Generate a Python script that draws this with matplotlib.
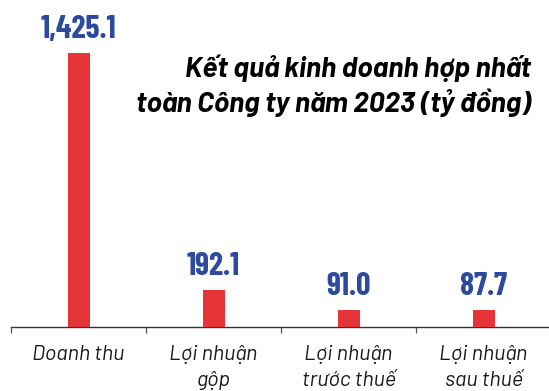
import matplotlib
matplotlib.use("Agg")
import matplotlib.pyplot as plt

# Kết quả kinh doanh 2023 (tỷ đồng)
categories = ["Doanh thu", "Lợi nhuận\ngộp", "Lợi nhuận\ntrước thuế", "Lợi nhuận\nsau thuế"]
values = [1425.1, 192.1, 91.0, 87.7]
value_labels = ["1,425.1", "192.1", "91.0", "87.7"]
title_lines = ["Kết quả kinh doanh hợp nhất", "toàn Công ty năm 2023 (tỷ đồng)"]

BAR_RED = "#E63538"
NUM_BLUE = "#2D4A9F"

W, H = 549, 391
fig = plt.figure(figsize=(W / 100, H / 100), dpi=100)
fig.patch.set_facecolor("white")

# trục x nằm ở y=327px, cột lớn nhất cao 274px
ax = fig.add_axes([11 / W, 64 / H, 538 / W, 327 / H])
ax.set_facecolor("none")

x = list(range(len(categories)))
ax.bar(x, values, width=0.163, color=BAR_RED, zorder=3)

ax.set_xlim(-0.5, 3.485)
ax.set_ylim(0, max(values) * 327 / 274)

for xi, v, lab in zip(x, values, value_labels):
    ax.annotate(lab, xy=(xi, v), xytext=(0, 10.8), textcoords="offset points",
                ha="center", va="baseline", fontsize=23, fontweight="bold",
                color=NUM_BLUE, family=["Barlow Condensed", "Roboto Condensed"])

# vạch chia giữa các nhóm, nhãn ở giữa nhóm
ax.set_xticks([-0.5, 0.5, 1.5, 2.5])
ax.set_xticklabels([])
ax.tick_params(axis="x", which="major", length=4.3, width=0.9, color="#555555")
ax.set_xticks(x, minor=True)
ax.set_xticklabels(categories, minor=True, fontsize=15.5, style="italic",
                   family=["Barlow", "Roboto"], color="#1a1a1a",
                   linespacing=1.45)
ax.tick_params(axis="x", which="minor", length=0, pad=13)

ax.set_yticks([])
for side in ["left", "right", "top"]:
    ax.spines[side].set_visible(False)
ax.spines["bottom"].set_color("#333333")
ax.spines["bottom"].set_linewidth(1.0)

# tiêu đề hai dòng, căn phải
for line, y_px in zip(title_lines, [77, 112]):
    fig.text(531 / W, 1 - y_px / H, line, ha="right", va="baseline",
             fontsize=20.5, fontweight="bold", style="italic",
             family=["Barlow", "Roboto"], color="black")

fig.savefig("out.png", dpi=100)
